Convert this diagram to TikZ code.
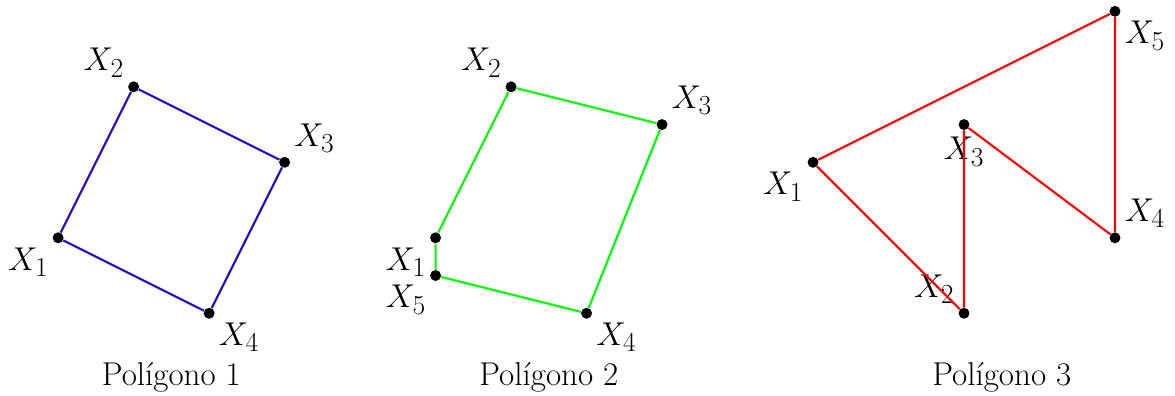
\documentclass[tikz,border=0pt]{standalone}
\usepackage{amsmath}
\definecolor{azul}{RGB}{40,10,200}
\begin{document}
\begin{tikzpicture}[
  punto/.style={fill=black, circle, inner sep=0pt, minimum size=2.9mm},
  lado/.style={line width=1.6pt},
  every label/.style={font=\Huge, inner sep=2pt},
  label distance=3pt,
  titulo/.style={font=\Huge}
]
\useasboundingbox (-1.54,-4.19) rectangle (29.59,6.30);
% Poligono 1
\node[punto, label={below left:$X_1$}] (a1) at (0,0) {};
\node[punto, label={above left:$X_2$}] (a2) at (2,4) {};
\node[punto, label={above right:$X_3$}] (a3) at (6,2) {};
\node[punto, label={below right:$X_4$}] (a4) at (4,-2) {};
\draw[lado, azul] (a1) -- (a2) -- (a3) -- (a4) -- (a1);
\node[titulo] (t1) at (3,-3.7) {Polígono 1};
% Poligono 2
\node[punto, label={below left:$X_1$}] (b1) at (10,0) {};
\node[punto, label={above left:$X_2$}] (b2) at (12,4) {};
\node[punto, label={above right:$X_3$}] (b3) at (16,3) {};
\node[punto, label={below right:$X_4$}] (b4) at (14,-2) {};
\node[punto, label={below left:$X_5$}] (b5) at (10,-1) {};
\draw[lado, green] (b1) -- (b2) -- (b3) -- (b4) -- (b5) -- (b1);
\node[titulo] (t2) at (13,-3.7) {Polígono 2};
% Poligono 3
\node[punto, label={below left:$X_1$}] (c1) at (20,2) {};
\node[punto, label={above left:$X_2$}] (c2) at (24,-2) {};
\node[punto, label={below:$X_3$}] (c3) at (24,3) {};
\node[punto, label={above right:$X_4$}] (c4) at (28,0) {};
\node[punto, label={below right:$X_5$}] (c5) at (28,6) {};
\draw[lado, red] (c1) -- (c2) -- (c3) -- (c4) -- (c5) -- (c1);
\node[titulo] (t3) at (25,-3.7) {Polígono 3};
\end{tikzpicture}
\end{document}
